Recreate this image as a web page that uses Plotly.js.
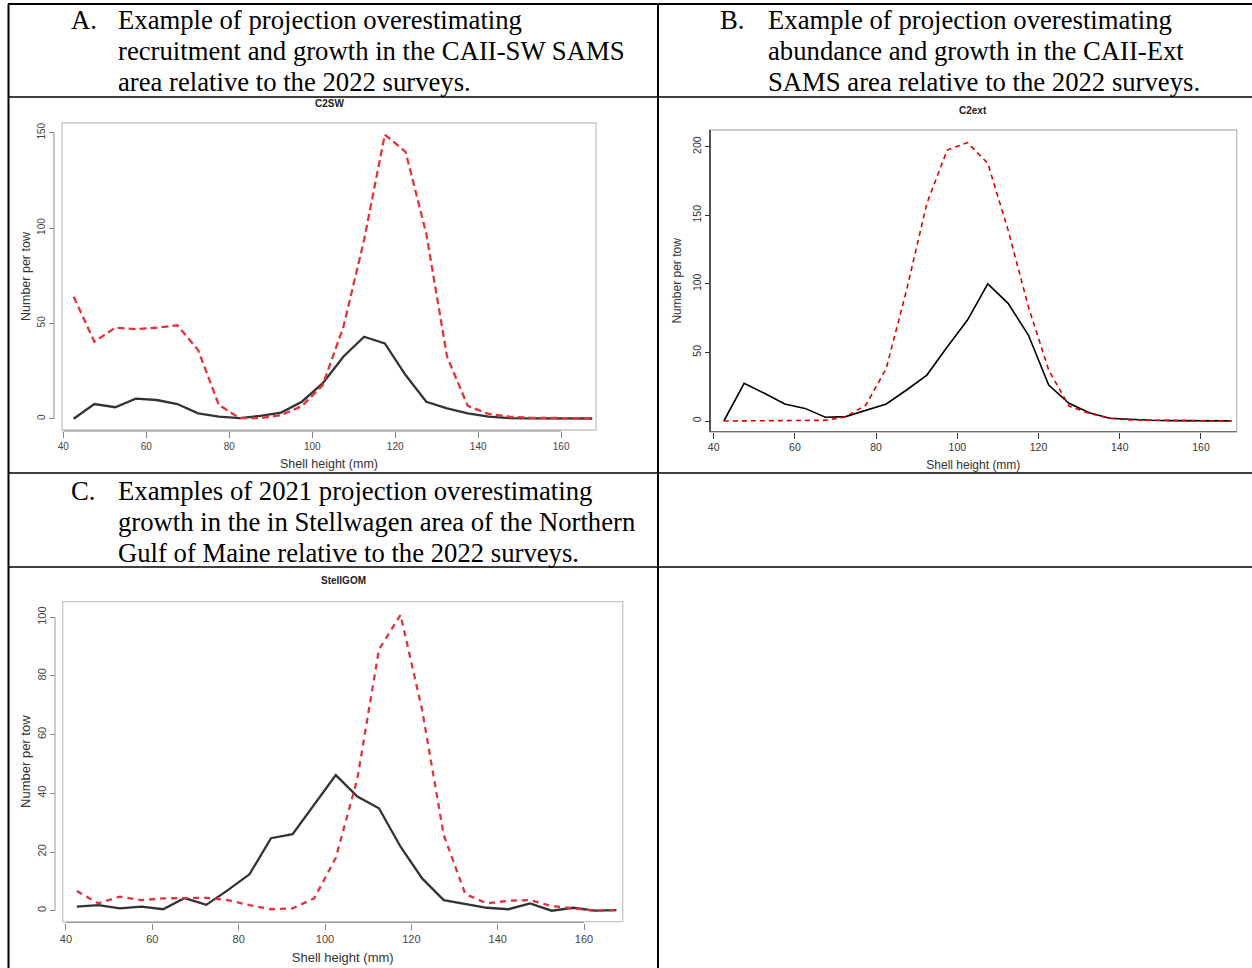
<!DOCTYPE html>
<html><head><meta charset="utf-8">
<script src="https://cdn.plot.ly/plotly-3.0.1.min.js"></script>
<style>html,body{margin:0;padding:0;background:#fff}#chart{width:1252px;height:968px}</style>
</head><body><div id="chart"></div>
<script>
// ---------- data ----------
const shellHeight = [42.5, 47.5, 52.5, 57.5, 62.5, 67.5, 72.5, 77.5, 82.5, 87.5, 92.5, 97.5, 102.5,
  107.5, 112.5, 117.5, 122.5, 127.5, 132.5, 137.5, 142.5, 147.5, 152.5, 157.5, 162.5, 167.5];

const c2swSurvey     = [0, 7.7, 6, 10.5, 9.8, 7.7, 2.8, 1.1, 0.3, 1.5, 3.2, 8.9, 18.5, 32.5, 43, 39.5, 22.9, 8.9, 5.4, 2.8, 1.1, 0.3, 0.2, 0.1, 0.1, 0.1];
const c2swProjection = [64, 40.4, 47.7, 47, 47.7, 49, 36, 7.2, 0.3, 0.3, 1.9, 6.6, 17.5, 48, 93.7, 149, 140, 97, 32.5, 6.7, 2.5, 1.1, 0.5, 0.3, 0.2, 0.2];

const c2extSurvey     = [0, 27.5, 20.2, 12.4, 9.2, 2.7, 3.2, 8, 12.4, 22.6, 33.5, 54, 73.6, 100, 85.8, 62.7, 26.2, 12.9, 6, 2, 1, 0.5, 0.3, 0.2, 0.1, 0.1];
const c2extProjection = [0, 0, 0, 0, 0, 0.5, 3, 11.7, 38.4, 95.5, 158.7, 197.6, 203, 187.9, 139.2, 83.3, 37.2, 10.9, 5.6, 2, 0.8, 0.5, 0.3, 0.2, 0.1, 0.1];

const stellSurvey     = [1.4, 1.9, 0.8, 1.4, 0.5, 4.3, 2, 7, 12.4, 24.7, 26.1, 36, 46.2, 38.9, 34.9, 21.8, 11, 3.6, 2.2, 1, 0.5, 2.5, 0, 1, 0, 0.2];
const stellProjection = [6.7, 2.5, 4.8, 3.6, 4.2, 4.4, 4.4, 3.6, 1.9, 0.5, 0.8, 4.2, 18, 45, 89, 100.8, 68.4, 25.8, 5.7, 2.5, 3.4, 3.6, 1.6, 0.8, 0, 0.2];

const xTicks = [40, 60, 80, 100, 120, 140, 160];
const c2swYTicks  = [0, 50, 100, 150];
const c2extYTicks = [0, 50, 100, 150, 200];
const stellYTicks = [0, 20, 40, 60, 80, 100];

const headerA = ["Example of projection overestimating", "recruitment and growth in the CAII-SW SAMS", "area relative to the 2022 surveys."];
const headerB = ["Example of projection overestimating", "abundance and growth in the CAII-Ext", "SAMS area relative to the 2022 surveys."];
const headerC = ["Examples of 2021 projection overestimating", "growth in the in Stellwagen area of the Northern", "Gulf of Maine relative to the 2022 surveys."];

// ---------- helpers (pixel -> paper) ----------
const W = 1252, H = 968;
const fx = p => p / W;
const fy = p => 1 - p / H;

const traces = [
  {x: shellHeight, y: c2swSurvey, xaxis: 'x', yaxis: 'y', mode: 'lines', name: 'Survey',
   line: {color: '#333333', width: 2.3}},
  {x: shellHeight, y: c2swProjection, xaxis: 'x', yaxis: 'y', mode: 'lines', name: 'Projection',
   line: {color: '#e3343a', width: 2.3, dash: '7px,4px'}},
  {x: shellHeight, y: c2extSurvey, xaxis: 'x2', yaxis: 'y2', mode: 'lines', name: 'Survey',
   line: {color: '#000000', width: 1.6}},
  {x: shellHeight, y: c2extProjection, xaxis: 'x2', yaxis: 'y2', mode: 'lines', name: 'Projection',
   line: {color: '#dd0000', width: 1.6, dash: '5px,4px'}},
  {x: shellHeight, y: stellSurvey, xaxis: 'x3', yaxis: 'y3', mode: 'lines', name: 'Survey',
   line: {color: '#333333', width: 2.3}},
  {x: shellHeight, y: stellProjection, xaxis: 'x3', yaxis: 'y3', mode: 'lines', name: 'Projection',
   line: {color: '#dd3340', width: 2.3, dash: '6px,5px'}}
];

const tickFontA = {family: 'Liberation Sans, Arial, sans-serif', size: 10, color: '#444'};
const tickFontB = {family: 'Liberation Sans, Arial, sans-serif', size: 10.5, color: '#333'};
const tickFontC = {family: 'Liberation Sans, Arial, sans-serif', size: 11, color: '#444'};
const titleFont = s => ({family: 'Liberation Sans, Arial, sans-serif', size: s, color: '#333'});

function xAxis(dom, rng, posPx, tickColor, tf, ts, standoff) {
  return {domain: [fx(dom[0]), fx(dom[1])], range: rng, anchor: 'free', position: fy(posPx),
    tickvals: xTicks, ticktext: xTicks.map(String), ticks: 'outside', ticklen: 6, tickcolor: tickColor, tickwidth: 1,
    showline: false, showgrid: false, zeroline: false, tickfont: tf, automargin: false,
    title: {text: 'Shell height (mm)', font: titleFont(ts), standoff: standoff}};
}
function yAxis(dom, rng, posPx, ticks, tickColor, tf, ts, standoff) {
  return {domain: [fy(dom[1]), fy(dom[0])], range: rng, anchor: 'free', position: fx(posPx),
    tickvals: ticks, ticktext: ticks.map(String), ticks: 'outside', ticklen: 5, tickcolor: tickColor, tickwidth: 1,
    tickangle: -90, showline: false, showgrid: false, zeroline: false, tickfont: tf, automargin: false,
    title: {text: 'Number per tow', font: titleFont(ts), standoff: standoff}};
}

const layout = {
  width: W, height: H, margin: {l: 0, r: 0, t: 0, b: 0},
  paper_bgcolor: '#fff', plot_bgcolor: '#fff', showlegend: false,
  xaxis:  xAxis([62, 596], [39.69, 168.4], 431, '#888', tickFontA, 12.5, 8),
  yaxis:  yAxis([123, 430], [-5.93, 155.1], 54, c2swYTicks, '#888', tickFontA, 12.5, 1),
  xaxis2: xAxis([710, 1236.7], [39.09, 168.8], 431.7, '#333', tickFontB, 12, 8),
  yaxis2: yAxis([130, 431.7], [-7.8, 212.2], 710, c2extYTicks, '#333', tickFontB, 12, 5),
  xaxis3: xAxis([62.7, 622.7], [39.24, 168.96], 922.5, '#888', tickFontC, 13, 9),
  yaxis3: yAxis([601.7, 921.7], [-3.75, 105.3], 55, stellYTicks, '#888', tickFontC, 13, 1),
  shapes: [],
  annotations: []
};

// plot boxes
[['x', 'y'], ['x2', 'y2'], ['x3', 'y3']].forEach(([xa, ya], i) => {
  layout.shapes.push({type: 'rect', xref: xa + ' domain', yref: ya + ' domain', x0: 0, x1: 1, y0: 0, y1: 1,
    line: {color: i === 1 ? '#bdbdbd' : '#c6c6c6', width: 1.3}});
});
// R-style axis lines (spanning first to last tick)
layout.shapes.push(
  {type: 'line', xref: 'paper', yref: 'y', x0: fx(54), x1: fx(54), y0: c2swYTicks[0], y1: c2swYTicks[c2swYTicks.length - 1], line: {color: '#888', width: 1}},
  {type: 'line', xref: 'x', yref: 'paper', x0: xTicks[0], x1: xTicks[xTicks.length - 1], y0: fy(431), y1: fy(431), line: {color: '#888', width: 1}},
  {type: 'line', xref: 'paper', yref: 'y2 domain', x0: fx(710), x1: fx(710), y0: 0, y1: 1, line: {color: '#000', width: 1.2}},
  {type: 'line', xref: 'x2 domain', yref: 'paper', x0: 0, x1: 1, y0: fy(431.7), y1: fy(431.7), line: {color: '#555', width: 1.1}},
  {type: 'line', xref: 'paper', yref: 'y3', x0: fx(55), x1: fx(55), y0: stellYTicks[0], y1: stellYTicks[stellYTicks.length - 1], line: {color: '#999', width: 1}},
  {type: 'line', xref: 'x3', yref: 'paper', x0: xTicks[0], x1: xTicks[xTicks.length - 1], y0: fy(922.5), y1: fy(922.5), line: {color: '#999', width: 1}}
);
// table rules
const rule = (x0, y0, x1, y1, w) => ({type: 'line', xref: 'paper', yref: 'paper',
  x0: fx(x0), x1: fx(x1), y0: fy(y0), y1: fy(y1), line: {color: '#000', width: w}});
layout.shapes.push(
  rule(8, 4, 1252, 4, 2),
  rule(8.5, 4, 8.5, 968, 2),
  rule(658, 4, 658, 968, 2),
  rule(8, 97, 1252, 97, 1.5),
  rule(8, 473, 1252, 473, 1.5),
  rule(8, 567, 1252, 567, 1.5)
);

// header texts
const serif = {family: 'Liberation Serif, Times New Roman, serif', size: 26.7, color: '#000'};
function header(label, lines, xLabel, xText, yFirst) {
  layout.annotations.push({text: label, xref: 'paper', yref: 'paper', x: fx(xLabel), y: fy(yFirst),
    xanchor: 'left', yanchor: 'middle', showarrow: false, font: serif});
  lines.forEach((t, i) => layout.annotations.push({text: t, xref: 'paper', yref: 'paper',
    x: fx(xText), y: fy(yFirst + i * 31), xanchor: 'left', yanchor: 'middle', showarrow: false, font: serif}));
}
header('A.', headerA, 69, 116, 20);
header('B.', headerB, 718, 766, 20);
header('C.', headerC, 69, 116, 491);

// panel titles
const ptitle = (t, x, y) => layout.annotations.push({text: '<b>' + t + '</b>', xref: 'paper', yref: 'paper',
  x: fx(x), y: fy(y), xanchor: 'center', yanchor: 'middle', showarrow: false,
  font: {family: 'Liberation Sans, Arial, sans-serif', size: 10, color: '#222'}});
ptitle('C2SW', 329, 103);
ptitle('C2ext', 973, 110);
ptitle('StellGOM', 343, 580);

Plotly.newPlot('chart', traces, layout, {staticPlot: true, displayModeBar: false});
</script>
</body></html>
